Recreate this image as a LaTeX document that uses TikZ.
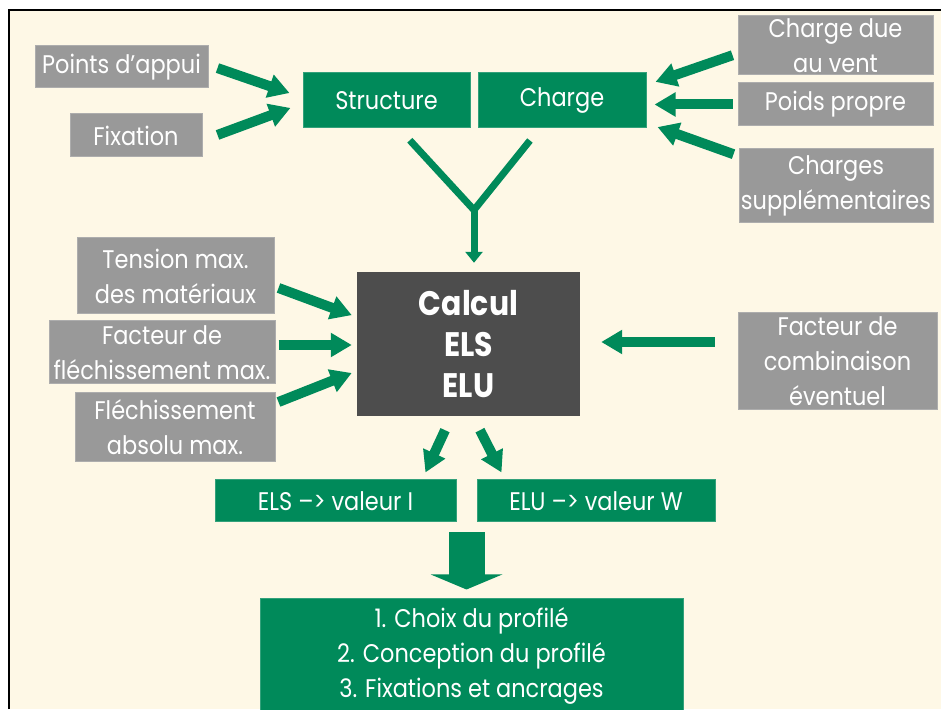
\documentclass[tikz,border=0pt]{standalone}
\usepackage{fontspec}
\setmainfont{Poppins}[FakeStretch=0.88]
\usetikzlibrary{arrows.meta,calc}

\definecolor{creme}{RGB}{254,248,230}
\definecolor{vert}{RGB}{0,138,90}
\definecolor{gris}{RGB}{153,153,153}
\definecolor{anthracite}{RGB}{77,77,77}

\tikzset{
  greybox/.style={fill=gris, draw=gris!80!white, line width=1pt, text=white, inner sep=0pt, align=center,
    font=\fontsize{25.5}{35}\selectfont},
  greenbox/.style={fill=vert, draw=vert!80!white, line width=1pt, text=white, inner sep=0pt, align=center,
    font=\fontsize{25.5}{35}\selectfont},
  calcbox/.style={fill=anthracite, text=white, inner sep=0pt, align=center,
    font=\fontsize{34}{41}\selectfont\bfseries},
  fat/.style={draw=vert, line width=10pt, -{Triangle[length=21pt,width=23pt]}},
  ybranch/.style={draw=vert, line width=7pt, line join=round},
  bloc/.style={draw=vert, line width=36pt, -{Triangle[length=15pt,width=71pt]}}
}

\begin{document}
\begin{tikzpicture}[x=1pt,y=1pt]
\useasboundingbox (0,0) rectangle (941,709);
% fond et cadre
\fill[creme] (10,0) rectangle (941,698);
\draw[line width=2pt] (9,0) -- (9,699) -- (941,699);

% entrees du haut
\node[greybox, minimum width=173pt, minimum height=42pt] (pa) at (121.5,642) {Points d’appui};
\node[greybox, minimum width=132pt, minimum height=43pt] (fix) at (136,573.5) {Fixation};
\node[greenbox, minimum width=167pt, minimum height=55pt] (struct) at (386.5,608.5) {Structure};
\node[greenbox, minimum width=168pt, minimum height=55pt] (charge) at (562,608.5) {Charge};
\node[greybox, minimum width=195pt, minimum height=59pt] (vent) at (835.5,663.5) {Charge due\\au vent};
\node[greybox, minimum width=195pt, minimum height=43pt] (poids) at (835.5,604.5) {Poids propre};
\node[greybox, minimum width=194pt, minimum height=74pt] (supp) at (836,523) {Charges\\supplémentaires};

% calcul
\node[greybox, minimum width=197pt, minimum height=76pt] (tension) at (175.5,433) {Tension max.\\des matériaux};
\node[greybox, minimum width=226pt, minimum height=63pt] (flmax) at (162,356.5) {Facteur de\\fléchissement max.};
\node[greybox, minimum width=200pt, minimum height=69pt] (flabs) at (175,281.5) {Fléchissement\\absolu max.};
\node[calcbox, minimum width=223pt, minimum height=144pt] (calcul) at (468.5,365) {Calcul\\ELS\\ELU};
\node[greybox, minimum width=199pt, minimum height=97pt] (combi) at (837.5,347.5) {Facteur de\\combinaison\\éventuel};

% resultats
\node[greenbox, minimum width=241pt, minimum height=42pt] (els) at (335.5,208) {ELS –> valeur I};
\node[greenbox, minimum width=238pt, minimum height=42pt] (elu) at (596,208) {ELU –> valeur W};
\node[greenbox, minimum width=423pt, minimum height=115pt] (profil) at (471.5,53.5) {1. Choix du profilé\\2. Conception du profilé\\3. Fixations et ancrages};

% fleches
\draw[fat, shorten <=9.5pt, shorten >=13.7pt] ([yshift=2pt]pa.east) -- ([yshift=3pt]struct.west);
\draw[fat, shorten <=16pt, shorten >=12.8pt] ([yshift=-5pt]fix.east) -- ([yshift=-3pt]struct.west);
\draw[fat, shorten <=5.3pt, shorten >=9.5pt] ([yshift=-8pt]vent.west) -- ([yshift=15.5pt]charge.east);
\draw[fat, shorten <=5pt, shorten >=8pt] (poids.west) -- ([yshift=-4pt]charge.east);
\draw[fat, shorten <=5.3pt, shorten >=11.7pt] ([yshift=30pt]supp.west) -- ([yshift=-22.6pt]charge.east);
\draw[fat, shorten <=4.3pt, shorten >=5.3pt] ([yshift=-10.5pt]tension.east) -- ([yshift=27pt]calcul.west);
\draw[fat, shorten <=3pt, shorten >=5pt] ([yshift=7.5pt]flmax.east) -- ([yshift=-1pt]calcul.west);
\draw[fat, shorten <=3.2pt, shorten >=5.4pt] ([yshift=24.3pt]flabs.east) -- ([yshift=-27pt]calcul.west);
\draw[fat, shorten <=23pt, shorten >=21pt] ([yshift=19.5pt]combi.west) -- ([yshift=2pt]calcul.east);
\draw[fat, shorten <=15.4pt, shorten >=7.7pt] ([xshift=-17pt]calcul.south) -- ([xshift=-34.3pt]els.north east);
\draw[fat, shorten <=15.7pt, shorten >=7.9pt] ([xshift=4.3pt]calcul.south) -- ([xshift=28.6pt]elu.north west);

% fourche
\coordinate (fourche) at (474,499);
\draw[ybranch, shorten <=16pt, shorten >=15.4pt] ([xshift=12.5pt]struct.south) -- (fourche) -- ([xshift=-22.4pt]charge.south);
\draw[ybranch, -{Triangle[length=11pt,width=17pt]}, shorten >=9pt] (fourche) -- ([xshift=5.5pt]calcul.north);

\draw[bloc, shorten <=10pt, shorten >=8pt] ($(els.south east)!0.5!(elu.south west)$) -- ([xshift=-5pt]profil.north);
\end{tikzpicture}
\end{document}
